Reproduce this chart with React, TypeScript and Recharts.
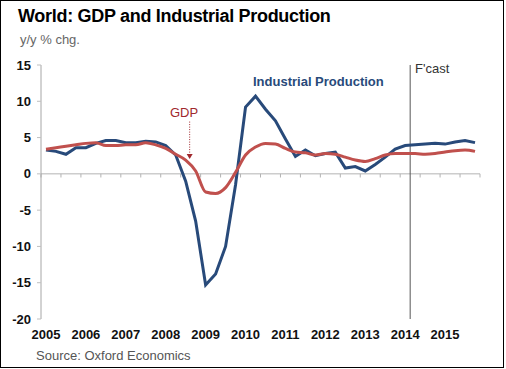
import React from 'react';
import { LineChart, Line, XAxis, YAxis, ReferenceLine, ReferenceDot } from 'recharts';

// quarterly, 2005Q1 .. 2015Q4
const years = ['2005', '2006', '2007', '2008', '2009', '2010', '2011', '2012', '2013', '2014', '2015'];
const quarters = years.flatMap((y) => [`${y}Q1`, `${y}Q2`, `${y}Q3`, `${y}Q4`]);

// y/y % change
const industrialProduction = [
  3.3, 3.1, 2.7, 3.6, 3.6, 4.2, 4.6, 4.6, 4.3, 4.3, 4.5,
  4.4, 3.9, 2.6, -1.0, -6.5, -15.3, -13.8, -10.0, -1.5, 9.2,
  10.7, 8.9, 7.3, 4.8, 2.4, 3.3, 2.5, 2.8, 3.0, 0.8,
  1.0, 0.4, 1.3, 2.3, 3.4, 3.9, 4.0, 4.1, 4.2, 4.1,
  4.4, 4.6, 4.3,
];
const gdp = [
  3.4, 3.6, 3.8, 4.0, 4.2, 4.3, 3.9, 3.9, 4.0, 4.0, 4.3,
  4.0, 3.5, 2.7, 1.9, 0.4, -2.5, -2.7, -1.9, 0.2, 2.6,
  3.7, 4.2, 4.1, 3.5, 3.0, 2.9, 2.6, 2.8, 2.7, 2.3,
  1.9, 1.7, 2.1, 2.6, 2.8, 2.8, 2.8, 2.7, 2.8, 3.0,
  3.2, 3.3, 3.1,
];

const yTicks = [-20, -15, -10, -5, 0, 5, 10, 15];
const yearTicks = years.map((_, k) => k * 4);
const minorTicks = Array.from({ length: 23 }, (_, k) => k * 2 - 0.5);
const forecastStart = 36.5;

const data = quarters.map((q, i) => ({ i, q, ip: industrialProduction[i], gdp: gdp[i] }));

const BLUE = '#284a7a';
const RED = '#c0504d';
const GDP_TEXT = '#a0282d';
const FONT = 'Arial, "Liberation Sans", sans-serif';

const ArrowHead = (props: any) => {
  const { cx, cy } = props;
  return <path d={`M${cx - 3},${cy - 4} L${cx + 3},${cy - 4} L${cx},${cy + 1} Z`} fill={GDP_TEXT} />;
};

export default function App() {
  return (
    <div
      style={{
        position: 'fixed',
        left: 0,
        top: 0,
        width: 506,
        height: 369,
        background: '#fff',
        fontFamily: FONT,
      }}
    >
      <LineChart width={506} height={369} data={data} margin={{ top: 65, right: 26, bottom: 0, left: 0 }}>
        <XAxis
          dataKey="i"
          type="number"
          domain={[-0.5, 43.5]}
          ticks={yearTicks}
          interval={0}
          tickFormatter={(v: number) => quarters[v].slice(0, 4)}
          axisLine={false}
          tickLine={false}
          tickSize={4}
          tickMargin={7}
          height={50}
          tick={{ fontSize: 13, fontWeight: 'bold', fill: '#111', fontFamily: FONT }}
        />
        <YAxis
          domain={[-20, 15]}
          ticks={yTicks}
          interval={0}
          width={41}
          axisLine={{ stroke: '#a6a6a6' }}
          tickLine={{ stroke: '#bfbfbf' }}
          tickSize={4}
          tickMargin={6}
          tick={{ fontSize: 13, fontWeight: 'bold', fill: '#111', fontFamily: FONT }}
        />
        <ReferenceLine y={0} stroke="#b3b3b3" />
        {minorTicks.map((b) => (
          <ReferenceLine
            key={b}
            segment={[
              { x: b, y: 0 },
              { x: b, y: -0.5 },
            ]}
            stroke="#b3b3b3"
          />
        ))}
        <ReferenceLine x={forecastStart} stroke="#555" />
        <ReferenceLine
          segment={[
            { x: 14.4, y: 7.2 },
            { x: 14.4, y: 2.8 },
          ]}
          stroke={GDP_TEXT}
          strokeDasharray="1 1.5"
        />
        <ReferenceDot x={14.4} y={2.2} r={3} shape={ArrowHead} />
        <Line
          type="linear"
          dataKey="ip"
          stroke={BLUE}
          strokeWidth={3}
          dot={false}
          isAnimationActive={false}
        />
        <Line
          type="monotone"
          dataKey="gdp"
          stroke={RED}
          strokeWidth={3}
          dot={false}
          isAnimationActive={false}
        />
      </LineChart>
      <svg
        width={506}
        height={369}
        style={{ position: 'absolute', left: 0, top: 0, pointerEvents: 'none', fontFamily: FONT }}
      >
        <rect x={0.5} y={0.5} width={503} height={367} fill="none" stroke="#000" />
        <text x={18} y={22} fontSize={18} fontWeight="bold" letterSpacing={-0.3} fill="#000">
          World: GDP and Industrial Production
        </text>
        <text x={20} y={44} fontSize={13} fill="#666">
          y/y % chg.
        </text>
        <text x={253} y={85.5} fontSize={13} fontWeight="bold" fill={BLUE}>
          Industrial Production
        </text>
        <text x={170} y={116.5} fontSize={13} fill={GDP_TEXT}>
          GDP
        </text>
        <text x={415} y={73} fontSize={13} fill="#333">
          F'cast
        </text>
        <text x={36} y={359.5} fontSize={13} fill="#555">
          Source: Oxford Economics
        </text>
      </svg>
    </div>
  );
}
